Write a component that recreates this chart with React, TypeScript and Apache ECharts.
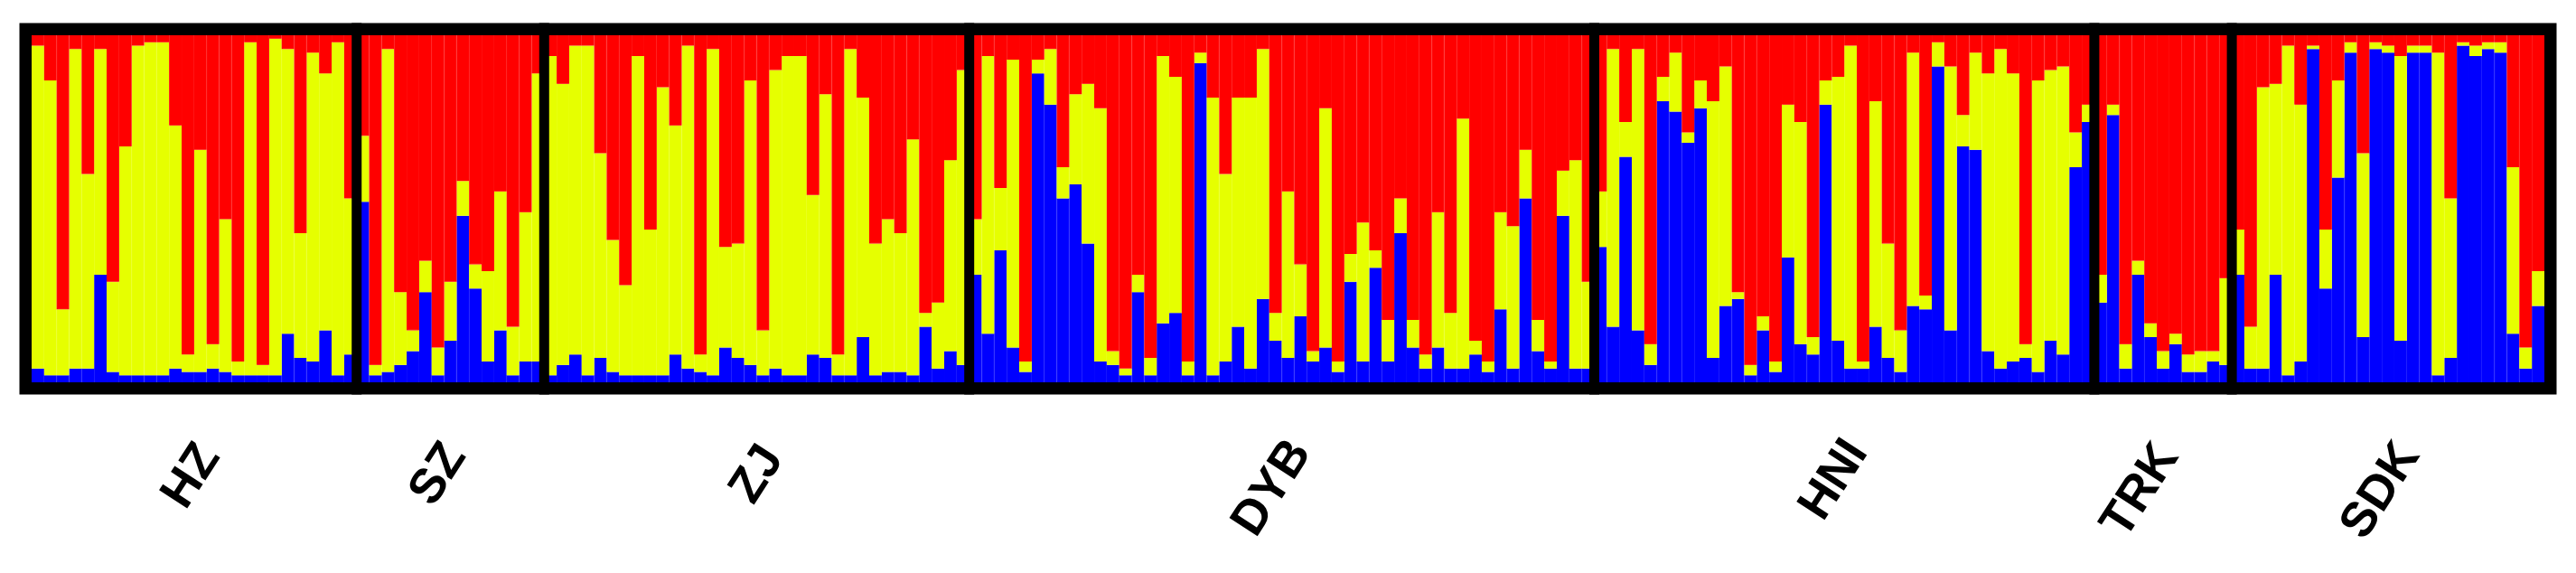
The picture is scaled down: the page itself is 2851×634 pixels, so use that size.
import React, { useEffect, useRef } from "react";
import * as echarts from "echarts";

// Populations (in plot order)
const populations = ["HZ", "SZ", "ZJ", "DYB", "HNI", "TRK", "SDK"];

// Membership proportions per individual, cluster 1 (blue), 2 (yellow), 3 (red)
const HZ_blue = [0.04, 0.02, 0.02, 0.04, 0.04, 0.31, 0.03, 0.02, 0.02, 0.02, 0.02, 0.04, 0.03, 0.03, 0.04, 0.03, 0.02, 0.02, 0.02, 0.02, 0.14, 0.07, 0.06, 0.15, 0.02, 0.08];
const HZ_yellow = [0.93, 0.85, 0.19, 0.92, 0.56, 0.65, 0.26, 0.66, 0.95, 0.96, 0.96, 0.70, 0.05, 0.64, 0.07, 0.44, 0.04, 0.96, 0.03, 0.97, 0.82, 0.36, 0.89, 0.74, 0.96, 0.45];
const HZ_red = [0.03, 0.13, 0.79, 0.04, 0.40, 0.04, 0.71, 0.32, 0.03, 0.02, 0.02, 0.26, 0.92, 0.33, 0.89, 0.53, 0.94, 0.02, 0.95, 0.01, 0.04, 0.57, 0.05, 0.11, 0.02, 0.47];

const SZ_blue = [0.52, 0.02, 0.03, 0.05, 0.09, 0.26, 0.02, 0.12, 0.48, 0.27, 0.06, 0.15, 0.02, 0.06, 0.06];
const SZ_yellow = [0.19, 0.03, 0.93, 0.21, 0.06, 0.09, 0.08, 0.17, 0.10, 0.07, 0.26, 0.40, 0.14, 0.43, 0.83];
const SZ_red = [0.29, 0.95, 0.04, 0.74, 0.85, 0.65, 0.90, 0.71, 0.42, 0.66, 0.68, 0.45, 0.84, 0.51, 0.11];

const ZJ_blue = [0.02, 0.05, 0.08, 0.02, 0.07, 0.03, 0.02, 0.02, 0.02, 0.02, 0.08, 0.04, 0.03, 0.02, 0.10, 0.07, 0.05, 0.02, 0.04, 0.02, 0.02, 0.08, 0.07, 0.02, 0.02, 0.13, 0.02, 0.03, 0.03, 0.02, 0.16, 0.04, 0.09, 0.05];
const ZJ_yellow = [0.92, 0.81, 0.89, 0.95, 0.59, 0.38, 0.26, 0.92, 0.42, 0.83, 0.66, 0.93, 0.05, 0.94, 0.29, 0.33, 0.82, 0.13, 0.86, 0.92, 0.92, 0.46, 0.76, 0.06, 0.94, 0.69, 0.38, 0.44, 0.40, 0.68, 0.04, 0.19, 0.55, 0.85];
const ZJ_red = [0.06, 0.14, 0.03, 0.03, 0.34, 0.59, 0.72, 0.06, 0.56, 0.15, 0.26, 0.03, 0.92, 0.04, 0.61, 0.60, 0.13, 0.85, 0.10, 0.06, 0.06, 0.46, 0.17, 0.92, 0.04, 0.18, 0.60, 0.53, 0.57, 0.30, 0.80, 0.77, 0.36, 0.10];

const DYB_blue = [0.31, 0.14, 0.38, 0.10, 0.03, 0.89, 0.80, 0.53, 0.57, 0.40, 0.06, 0.05, 0.02, 0.26, 0.02, 0.17, 0.20, 0.02, 0.92, 0.02, 0.06, 0.16, 0.04, 0.24, 0.12, 0.07, 0.19, 0.06, 0.10, 0.03, 0.29, 0.06, 0.33, 0.06, 0.43, 0.10, 0.04, 0.10, 0.04, 0.04, 0.08, 0.03, 0.21, 0.04, 0.53, 0.09, 0.04, 0.48, 0.04, 0.04];
const DYB_yellow = [0.16, 0.80, 0.18, 0.83, 0.03, 0.04, 0.16, 0.09, 0.26, 0.46, 0.73, 0.04, 0.02, 0.05, 0.05, 0.77, 0.68, 0.04, 0.03, 0.80, 0.54, 0.66, 0.78, 0.72, 0.08, 0.48, 0.15, 0.03, 0.69, 0.03, 0.08, 0.40, 0.05, 0.12, 0.10, 0.08, 0.04, 0.39, 0.16, 0.72, 0.04, 0.03, 0.28, 0.41, 0.14, 0.09, 0.02, 0.13, 0.60, 0.25];
const DYB_red = [0.53, 0.06, 0.44, 0.07, 0.94, 0.07, 0.04, 0.38, 0.17, 0.14, 0.21, 0.91, 0.96, 0.69, 0.93, 0.06, 0.12, 0.94, 0.05, 0.18, 0.40, 0.18, 0.18, 0.04, 0.80, 0.45, 0.66, 0.91, 0.21, 0.94, 0.63, 0.54, 0.62, 0.82, 0.47, 0.82, 0.92, 0.51, 0.80, 0.24, 0.88, 0.94, 0.51, 0.55, 0.33, 0.82, 0.94, 0.39, 0.36, 0.71];

const HNI_blue = [0.39, 0.16, 0.65, 0.15, 0.05, 0.81, 0.78, 0.69, 0.79, 0.07, 0.22, 0.24, 0.02, 0.15, 0.03, 0.36, 0.11, 0.08, 0.80, 0.12, 0.04, 0.04, 0.16, 0.07, 0.03, 0.22, 0.21, 0.91, 0.15, 0.68, 0.67, 0.09, 0.04, 0.06, 0.07, 0.03, 0.12, 0.08, 0.62, 0.75];
const HNI_yellow = [0.16, 0.80, 0.10, 0.81, 0.06, 0.07, 0.17, 0.03, 0.08, 0.74, 0.69, 0.02, 0.03, 0.04, 0.03, 0.44, 0.64, 0.05, 0.07, 0.76, 0.93, 0.02, 0.65, 0.33, 0.12, 0.73, 0.04, 0.07, 0.76, 0.09, 0.28, 0.80, 0.92, 0.83, 0.04, 0.84, 0.78, 0.83, 0.10, 0.05];
const HNI_red = [0.45, 0.04, 0.25, 0.04, 0.89, 0.12, 0.05, 0.28, 0.13, 0.19, 0.09, 0.74, 0.95, 0.81, 0.94, 0.20, 0.25, 0.87, 0.13, 0.12, 0.03, 0.94, 0.19, 0.60, 0.85, 0.05, 0.75, 0.02, 0.09, 0.23, 0.05, 0.11, 0.04, 0.11, 0.89, 0.13, 0.10, 0.09, 0.28, 0.20];

const TRK_blue = [0.23, 0.77, 0.04, 0.31, 0.13, 0.04, 0.11, 0.03, 0.03, 0.06, 0.05];
const TRK_yellow = [0.08, 0.03, 0.07, 0.04, 0.04, 0.05, 0.03, 0.05, 0.06, 0.03, 0.25];
const TRK_red = [0.69, 0.20, 0.89, 0.65, 0.83, 0.91, 0.86, 0.92, 0.91, 0.91, 0.70];

const SDK_blue = [0.31, 0.04, 0.04, 0.31, 0.02, 0.06, 0.96, 0.27, 0.59, 0.95, 0.13, 0.96, 0.95, 0.12, 0.95, 0.95, 0.02, 0.07, 0.97, 0.94, 0.96, 0.95, 0.14, 0.04, 0.22];
const SDK_yellow = [0.13, 0.12, 0.81, 0.55, 0.95, 0.74, 0.01, 0.17, 0.28, 0.03, 0.53, 0.02, 0.02, 0.82, 0.02, 0.02, 0.93, 0.46, 0.01, 0.03, 0.02, 0.03, 0.48, 0.06, 0.10];
const SDK_red = [0.56, 0.84, 0.15, 0.14, 0.03, 0.20, 0.03, 0.56, 0.13, 0.02, 0.34, 0.02, 0.03, 0.06, 0.03, 0.03, 0.05, 0.47, 0.02, 0.03, 0.02, 0.02, 0.38, 0.90, 0.68];

const blueByPop = [HZ_blue, SZ_blue, ZJ_blue, DYB_blue, HNI_blue, TRK_blue, SDK_blue];
const yellowByPop = [HZ_yellow, SZ_yellow, ZJ_yellow, DYB_yellow, HNI_yellow, TRK_yellow, SDK_yellow];
const redByPop = [HZ_red, SZ_red, ZJ_red, DYB_red, HNI_red, TRK_red, SDK_red];

const blue = blueByPop.flat();
const yellow = yellowByPop.flat();
const red = redByPop.flat();
const categories = populations.flatMap((p, k) => blueByPop[k].map((_, i) => `${p}-${i + 1}`));

// Layout constants
const W = 2851;
const H = 634;
const GRID = { left: 35, top: 39, width: 2781, height: 384 };
const FRAME = 13.5;
const SEP_W = 11;
// label centre positions (px) and rotation
const labelPos: [number, number][] = [
  [209, 525], [482, 523], [835, 523], [1405, 538], [2027, 529], [2366, 541], [2632, 541],
];
const LABEL_ROT = (57 * Math.PI) / 180;

const COLORS = { blue: "#0000FF", yellow: "#E6FF00", red: "#FF0000" };

export default function App() {
  const ref = useRef<HTMLDivElement>(null);
  useEffect(() => {
    document.body.style.margin = "0";
    const chart = echarts.init(ref.current!, undefined, { renderer: "svg", width: W, height: H });
    const mk = (name: string, data: number[], color: string) => ({
      type: "bar",
      name,
      stack: "q",
      data,
      barCategoryGap: "0%",
      barGap: "0%",
      itemStyle: { color, borderColor: color, borderWidth: 1.2 },
      emphasis: { disabled: true },
    });
    chart.setOption({
      animation: false,
      backgroundColor: "#ffffff",
      grid: { left: GRID.left, top: GRID.top, width: GRID.width, height: GRID.height, containLabel: false },
      xAxis: { type: "category", data: categories, show: false, boundaryGap: true },
      yAxis: { type: "value", min: 0, max: 1, show: false },
      series: [mk("K1", blue, COLORS.blue), mk("K2", yellow, COLORS.yellow), mk("K3", red, COLORS.red)],
    });

    // separators at population boundaries, computed through the category axis
    const c0 = chart.convertToPixel({ xAxisIndex: 0 }, 0) as number;
    const c1 = chart.convertToPixel({ xAxisIndex: 0 }, 1) as number;
    const bw = c1 - c0;
    const left0 = c0 - bw / 2;
    const sizes = blueByPop.map((a) => a.length);
    const bounds: number[] = [];
    let acc = 0;
    for (let k = 0; k < sizes.length - 1; k++) {
      acc += sizes[k];
      bounds.push(acc);
    }
    const graphics: any[] = [];
    bounds.forEach((b) => {
      const x = left0 + b * bw;
      graphics.push({
        type: "rect",
        z: 100,
        shape: { x: x - SEP_W / 2, y: GRID.top - FRAME, width: SEP_W, height: GRID.height + 2 * FRAME },
        style: { fill: "#000" },
        silent: true,
      });
    });
    graphics.push({
      type: "rect",
      z: 101,
      shape: {
        x: GRID.left - FRAME / 2,
        y: GRID.top - FRAME / 2,
        width: GRID.width + FRAME,
        height: GRID.height + FRAME,
      },
      style: { fill: "none", stroke: "#000", lineWidth: FRAME },
      silent: true,
    });
    populations.forEach((p, k) => {
      graphics.push({
        type: "text",
        z: 102,
        x: labelPos[k][0],
        y: labelPos[k][1],
        rotation: LABEL_ROT,
        style: {
          text: p,
          fill: "#000",
          font: "bold 54px 'Liberation Sans', Arial, sans-serif",
          align: "center",
          verticalAlign: "middle",
        },
        silent: true,
      });
    });
    chart.setOption({ graphic: graphics });
    return () => chart.dispose();
  }, []);
  return <div ref={ref} style={{ position: "fixed", left: 0, top: 0, width: W, height: H }} />;
}
